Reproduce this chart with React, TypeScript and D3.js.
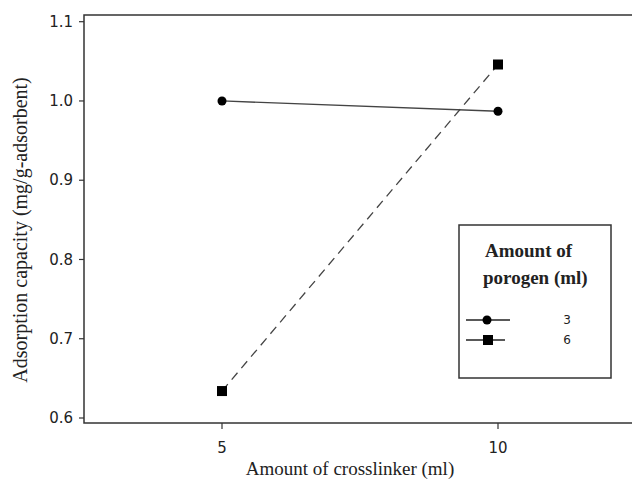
import * as d3 from "d3";

// crosslinker amounts on the x axis
const crosslinker = [5, 10];
// adsorption capacity per porogen level
const porogen3 = [1.0, 0.987];
const porogen6 = [0.634, 1.046];
const yTicks = [0.6, 0.7, 0.8, 0.9, 1.0, 1.1];
const xTicks = [5, 10];
const legendLabels = ["3", "6"];

const W = 632;
const H = 480;

export default function App() {
  const x = d3.scaleLinear().domain([2.5, 12.5]).range([84, 636]);
  const y = d3.scaleLinear().domain([0.6, 1.1]).range([418, 21.7]);
  const top = 15;
  const bottom = 423;
  const left = 84;

  const line = d3
    .line<number>()
    .x((_, i) => x(crosslinker[i]))
    .y((d) => y(d));

  const tickFont = "'DejaVu Sans', Verdana, sans-serif";
  const serif = "'Liberation Serif', 'Times New Roman', serif";
  const ink = "#333";

  return (
    <svg
      width={W}
      height={H}
      style={{ position: "absolute", left: 0, top: 0, background: "#fff" }}
    >
      {/* plot frame */}
      <rect x={left} y={top} width={W + 10 - left} height={bottom - top} fill="none" stroke={ink} strokeWidth={1.5} />

      {/* y axis ticks */}
      {yTicks.map((t) => (
        <g key={t}>
          <line x1={left - 5} x2={left} y1={y(t)} y2={y(t)} stroke={ink} strokeWidth={1.2} />
          <text x={left - 11} y={y(t)} dy="0.35em" textAnchor="end" fontFamily={tickFont} fontSize={15} fill="#222">
            {t.toFixed(1)}
          </text>
        </g>
      ))}

      {/* x axis ticks */}
      {xTicks.map((t) => (
        <g key={t}>
          <line x1={x(t)} x2={x(t)} y1={bottom} y2={bottom + 6} stroke={ink} strokeWidth={1.2} />
          <text x={x(t)} y={bottom + 30} textAnchor="middle" fontFamily={tickFont} fontSize={15} fill="#222">
            {t}
          </text>
        </g>
      ))}

      {/* axis titles */}
      <text x={350} y={475} textAnchor="middle" fontFamily={serif} fontSize={19} fill="#222">
        Amount of crosslinker (ml)
      </text>
      <text
        transform={`translate(27, 230) rotate(-90)`}
        textAnchor="middle"
        fontFamily={serif}
        fontSize={20}
        fill="#222"
      >
        Adsorption capacity (mg/g-adsorbent)
      </text>

      {/* series: porogen 3 */}
      <path d={line(porogen3) ?? ""} fill="none" stroke="#444" strokeWidth={1.3} />
      {porogen3.map((v, i) => (
        <circle key={i} cx={x(crosslinker[i])} cy={y(v)} r={4.5} fill="#000" />
      ))}

      {/* series: porogen 6 */}
      <path d={line(porogen6) ?? ""} fill="none" stroke="#444" strokeWidth={1.3} strokeDasharray="9,6" />
      {porogen6.map((v, i) => (
        <rect key={i} x={x(crosslinker[i]) - 5} y={y(v) - 5} width={10} height={10} fill="#000" />
      ))}

      {/* legend */}
      <rect x={459} y={225} width={152} height={153} fill="#fff" stroke={ink} strokeWidth={1.5} />
      <text x={485} y={257} fontFamily={serif} fontSize={19} fontWeight="bold" fill="#222">
        Amount of
      </text>
      <text x={483} y={284} fontFamily={serif} fontSize={19} fontWeight="bold" fill="#222">
        porogen (ml)
      </text>
      <line x1={466} x2={510} y1={320} y2={320} stroke="#222" strokeWidth={1.3} />
      <circle cx={487} cy={320} r={4.5} fill="#000" />
      <line x1={466} x2={505} y1={340} y2={340} stroke="#222" strokeWidth={1.3} />
      <rect x={483} y={335} width={10} height={10} fill="#000" />
      {legendLabels.map((l, i) => (
        <text key={l} x={567} y={320 + i * 20} dy="0.35em" textAnchor="middle" fontFamily={tickFont} fontSize={12} fill="#222">
          {l}
        </text>
      ))}
    </svg>
  );
}
